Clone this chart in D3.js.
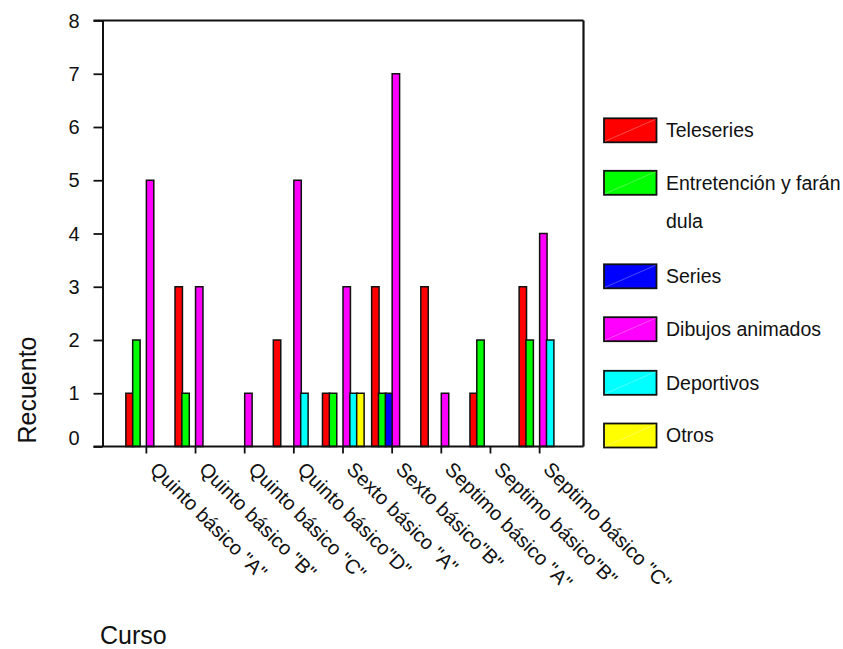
<!DOCTYPE html>
<html>
<head>
<meta charset="utf-8">
<script src="https://cdn.jsdelivr.net/npm/d3@7"></script>
<style>
  html, body { margin: 0; padding: 0; background: #fff; }
  svg { display: block; font-family: Arial, "Liberation Sans", sans-serif; }
</style>
</head>
<body>
<svg id="chart" width="843" height="649"></svg>
<script>
const categories = ['Quinto básico "A"', 'Quinto básico "B"', 'Quinto básico "C"', 'Quinto básico"D"',
  'Sexto básico "A"', 'Sexto básico"B"', 'Septimo básico "A"', 'Septimo básico"B"', 'Septimo básico "C"'];
const seriesNames = ["Teleseries", "Entretención y farándula", "Series", "Dibujos animados", "Deportivos", "Otros"];
const legendLabels = [["Teleseries"], ["Entretención y farán", "dula"], ["Series"], ["Dibujos animados"], ["Deportivos"], ["Otros"]];
const teleseries   = [1, 3, 0, 2, 1, 3, 3, 1, 3];
const entretencion = [2, 1, 0, 0, 1, 1, 0, 2, 2];
const series       = [0, 0, 0, 0, 0, 1, 0, 0, 0];
const dibujos      = [5, 3, 1, 5, 3, 7, 1, 0, 4];
const deportivos   = [0, 0, 0, 1, 1, 0, 0, 0, 2];
const otros        = [0, 0, 0, 0, 1, 0, 0, 0, 0];
const yTicks = [0, 1, 2, 3, 4, 5, 6, 7, 8];
const colors = ["#FF0000", "#00FF00", "#0000FF", "#FF00FF", "#00FFFF", "#FFFF00"];

const seriesValues = [teleseries, entretencion, series, dibujos, deportivos, otros];

const svg = d3.select("#chart");
const L = 102.5, R = 583.5, T = 20.5, B = 446.5;

const x = d3.scaleBand().domain(categories).range([L, R]).paddingInner(0.165).paddingOuter(0.475);
const xs = d3.scaleBand().domain(seriesNames).range([0, x.bandwidth()]).padding(0);
const y = d3.scaleLinear().domain([0, 8]).range([B, T]);

// bars
const data = [];
seriesNames.forEach((s, si) => {
  categories.forEach((c, ci) => {
    const v = seriesValues[si][ci];
    if (v > 0) data.push({ s, si, c, v });
  });
});
svg.append("g").selectAll("rect").data(data).join("rect")
  .attr("x", d => x(d.c) + xs(d.s))
  .attr("y", d => y(d.v))
  .attr("width", xs.bandwidth() + 0.6)
  .attr("height", d => y(0) - y(d.v))
  .attr("fill", d => colors[d.si])
  .attr("stroke", "#111")
  .attr("stroke-width", 1.5);

// frame top/right
svg.append("line").attr("x1", L - 9).attr("x2", R).attr("y1", T).attr("y2", T)
  .attr("stroke", "#111").attr("stroke-width", 2);
svg.append("line").attr("x1", R).attr("x2", R).attr("y1", T).attr("y2", B)
  .attr("stroke", "#111").attr("stroke-width", 2.2);

// y axis
const yAxis = svg.append("g").attr("transform", `translate(${L},0)`)
  .call(d3.axisLeft(y).tickValues(yTicks).tickFormat(d3.format("d")).tickSize(9).tickPadding(14).tickSizeOuter(0));
yAxis.select(".domain").attr("stroke", "#111").attr("stroke-width", 2);
yAxis.selectAll(".tick line").attr("stroke", "#111").attr("stroke-width", 1.8);
yAxis.selectAll(".tick text").attr("font-size", 20).attr("fill", "#111")
  .attr("font-family", "Arial, 'Liberation Sans', sans-serif")
  .attr("dy", d => d === 0 ? "-0.08em" : "0.33em");

// x axis
const xAxis = svg.append("g").attr("transform", `translate(0,${B})`)
  .call(d3.axisBottom(x).tickSize(7).tickSizeOuter(0));
xAxis.select(".domain").attr("stroke", "#111").attr("stroke-width", 2)
  .attr("d", `M${L - 9},0H${R}`);
xAxis.selectAll(".tick line").attr("stroke", "#111").attr("stroke-width", 1.8);
xAxis.selectAll(".tick text")
  .attr("font-size", 20).attr("fill", "#111")
  .attr("font-family", "Arial, 'Liberation Sans', sans-serif")
  .attr("text-anchor", "start")
  .attr("x", 0).attr("y", 0).attr("dy", 0)
  .attr("transform", "translate(2.5,24) rotate(45)");

// axis titles
svg.append("text").attr("transform", "translate(36,390) rotate(-90)")
  .attr("text-anchor", "middle").attr("font-size", 25).attr("fill", "#111").text("Recuento");
svg.append("text").attr("x", 100).attr("y", 644)
  .attr("font-size", 25).attr("fill", "#111").text("Curso");

// legend
const legendY = [130.3, 182.8, 276.3, 329.2, 382.8, 435.5];
const lg = svg.append("g");
seriesNames.forEach((s, i) => {
  const cy = legendY[i];
  lg.append("rect").attr("x", 604).attr("y", cy - 12).attr("width", 52.5).attr("height", 24)
    .attr("fill", colors[i]).attr("stroke", "#111").attr("stroke-width", 1.8);
  lg.append("line").attr("x1", 605).attr("y1", cy + 11).attr("x2", 655.5).attr("y2", cy - 11)
    .attr("stroke", "#fff").attr("stroke-opacity", 0.5).attr("stroke-width", 0.6);
  legendLabels[i].forEach((t, j) => {
    lg.append("text").attr("x", 666).attr("y", cy + j * 38.5).attr("dy", "0.35em")
      .attr("font-size", 19.5).attr("fill", "#111").text(t);
  });
});
</script>
</body>
</html>
